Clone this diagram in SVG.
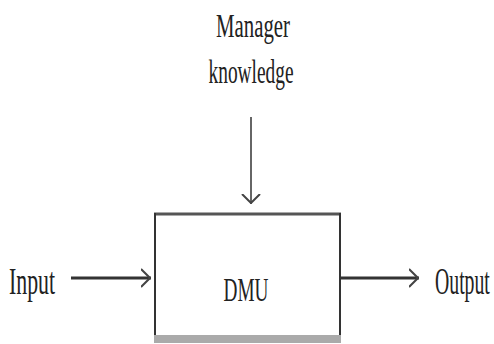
<svg xmlns="http://www.w3.org/2000/svg" width="494" height="344" viewBox="0 0 494 344">
<style>
text{font-family:"Liberation Serif","Times New Roman",serif;fill:#222}
.c{fill:none;stroke:#333;stroke-width:3}
</style>
<defs>
<marker id="a" viewBox="0 0 10 20" refX="10" refY="10" markerWidth="10" markerHeight="20" markerUnits="userSpaceOnUse" orient="auto">
<path d="M0,1 L9,10 L0,19" fill="none" stroke="#444" stroke-width="2"/>
</marker>
</defs>
<rect width="494" height="344" fill="#fff"/>
<g id="manager">
<text transform="translate(253,37) scale(0.613,1)" font-size="34" text-anchor="middle">Manager</text>
<text transform="translate(251,83) scale(0.57,1)" font-size="34" text-anchor="middle">knowledge</text>
</g>
<g id="dmu">
<rect x="155" y="214" width="185" height="124" fill="#fff" stroke="none"/>
<line x1="154" y1="214" x2="341" y2="214" stroke="#555" stroke-width="3"/>
<line x1="155" y1="213" x2="155" y2="338" stroke="#333" stroke-width="2"/>
<line x1="340" y1="213" x2="340" y2="338" stroke="#333" stroke-width="2"/>
<line x1="154" y1="339" x2="341" y2="339" stroke="#aaa" stroke-width="8"/>
<text transform="translate(246,301) scale(0.567,1)" font-size="34" text-anchor="middle">DMU</text>
</g>
<g id="input">
<text transform="translate(9,294) scale(0.574,1)" font-size="38">Input</text>
</g>
<g id="output">
<text transform="translate(435,294) scale(0.52,1)" font-size="38">Output</text>
</g>
<g id="connectors">
<line x1="251" y1="117" x2="251" y2="204" fill="none" stroke="#666" stroke-width="2" marker-end="url(#a)"/>
<line class="c" x1="71" y1="278" x2="151" y2="278" marker-end="url(#a)"/>
<line class="c" x1="340" y1="278" x2="419" y2="278" marker-end="url(#a)"/>
</g>
</svg>
